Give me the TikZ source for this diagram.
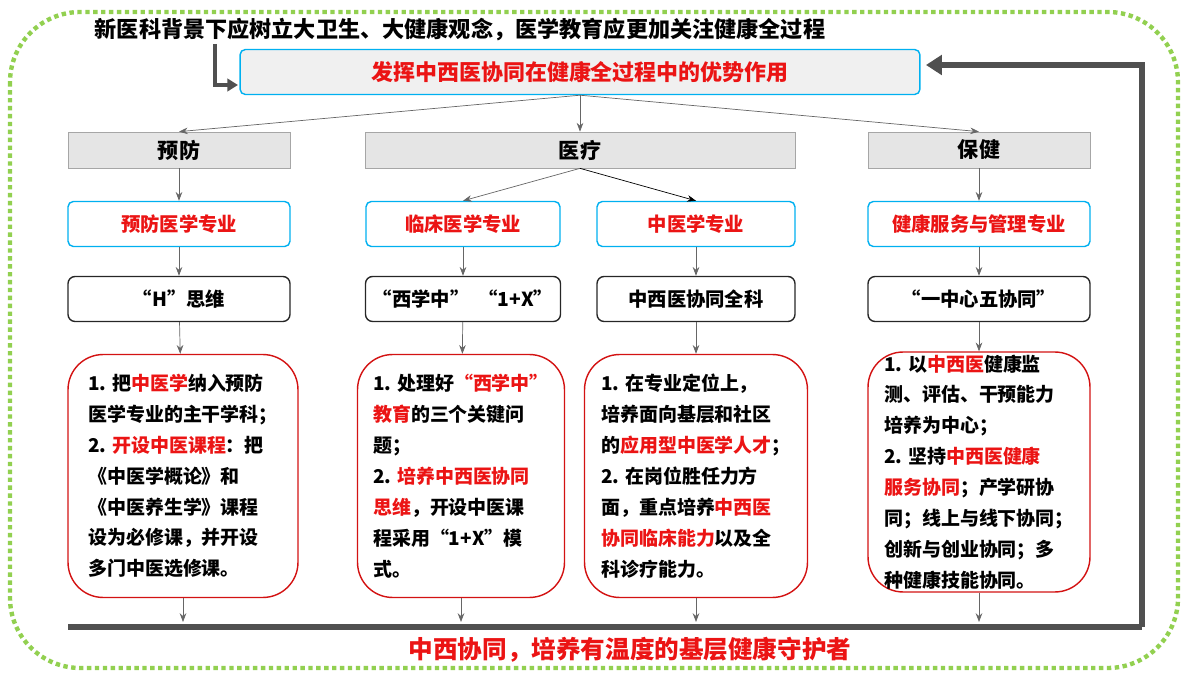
\documentclass[tikz,border=0pt]{standalone}
\usepackage{fontspec}
\setmainfont{Noto Sans CJK SC}
\usetikzlibrary{arrows.meta}
\definecolor{hired}{RGB}{235,20,20}
\definecolor{skyb}{RGB}{0,176,240}
\definecolor{leaf}{RGB}{146,208,80}
\definecolor{darkline}{RGB}{80,80,80}
\newcommand{\hl}[1]{\textcolor{hired}{#1}}
\tikzset{
  catbox/.style={draw=gray!70,fill=gray!20,minimum height=0.72cm,font=\bfseries\fontsize{12}{14}\selectfont},
  majbox/.style={draw=skyb,thick,rounded corners=3pt,fill=white,minimum height=0.9cm,text=hired,font=\bfseries\fontsize{11}{13}\selectfont},
  thinkbox/.style={draw=black!85,thick,rounded corners=4pt,minimum height=0.9cm,font=\bfseries\fontsize{11}{13}\selectfont},
  detbox/.style={draw=hired!90!black,thick,rounded corners=20pt,align=left,inner sep=0pt,font=\bfseries\fontsize{10.8}{17.6}\selectfont},
  link/.style={-{Stealth[length=5pt]},gray!80!black},
}
\begin{document}
\begin{tikzpicture}[x=0.02cm,y=-0.02cm]
\useasboundingbox (0,0) rectangle (1184,675);

% outer frame
\draw[leaf,line width=2.5pt,dotted,rounded corners=40pt] (10,12) rectangle (1178,668);

\node[font=\bfseries\fontsize{12.6}{14}\selectfont] (intro) at (460,30) {新医科背景下应树立大卫生、大健康观念，医学教育应更加关注健康全过程};

\node[draw=skyb,thick,fill=gray!12,rounded corners=3pt,minimum width=13.6cm,minimum height=0.9cm,
  text=hired,font=\bfseries\fontsize{12.5}{15}\selectfont] (top) at (580,72) {发挥中西医协同在健康全过程中的优势作用};

% categories
\node[catbox,minimum width=4.44cm] (yf) at (179,150) {预防};
\node[catbox,minimum width=8.6cm] (yl) at (580,150) {医疗};
\node[catbox,minimum width=4.44cm] (bj) at (979,150) {保健};

% majors
\node[majbox,minimum width=4.44cm] (m1) at (179,224) {预防医学专业};
\node[majbox,minimum width=3.88cm] (m2) at (463,224) {临床医学专业};
\node[majbox,minimum width=3.96cm] (m3) at (696,224) {中医学专业};
\node[majbox,minimum width=4.44cm] (m4) at (979,224) {健康服务与管理专业};

% thinking
\node[thinkbox,minimum width=4.44cm] (t1) at (179,299) {“H”思维};
\node[thinkbox,minimum width=3.9cm] (t2) at (463,299) {“西学中”\ \ “1+X”};
\node[thinkbox,minimum width=3.96cm] (t3) at (696,299) {中西医协同全科};
\node[thinkbox,minimum width=4.44cm] (t4) at (979,299) {“一中心五协同”};

% details
\node[detbox,minimum width=4.6cm,minimum height=4.86cm] (d1) at (183,476) {1. 把\hl{中医学}纳入预防\\医学专业的主干学科；\\2. \hl{开设中医课程}：把\\《中医学概论》和\\《中医养生学》课程\\设为必修课，并开设\\多门中医选修课。};
\node[detbox,minimum width=4.14cm,minimum height=4.86cm] (d2) at (461,476) {1. 处理好\hl{“西学中”}\\\hl{教育}的三个关键问\\题；\\2. \hl{培养中西医协同}\\\hl{思维}，开设中医课\\程采用“1+X”模\\式。};
\node[detbox,minimum width=4.46cm,minimum height=4.86cm] (d3) at (696,476) {1. 在专业定位上，\\培养面向基层和社区\\的\hl{应用型中医学人才}；\\2. 在岗位胜任力方\\面，重点培养\hl{中西医}\\\hl{协同临床能力}以及全\\科诊疗能力。};
\node[detbox,minimum width=4.44cm,minimum height=4.8cm] (d4) at (979,472) {1. 以\hl{中西医}健康监\\测、评估、干预能力\\培养为中心；\\2. 坚持\hl{中西医健康}\\\hl{服务协同}；产学研协\\同；线上与线下协同；\\创新与创业协同；多\\种健康技能协同。};

% connectors
\draw[link] (top.south) -- (yf.north);
\draw[link] (top.south) -- (yl.north);
\draw[link] (top.south) -- (bj.north);
\draw[link] (yf) -- (m1);
\draw[link] (bj) -- (m4);
\draw[link] (yl.south) -- (m2.north);
\draw[-{Stealth[length=5pt]},black] (yl.south) -- (m3.north);
\foreach \i in {1,2,3,4}{
  \draw[link] (m\i) -- (t\i);
  \draw[link] (t\i) -- (d\i);
}
\coordinate (b1) at (183,622);
\coordinate (b2) at (461,622);
\coordinate (b3) at (696,622);
\coordinate (b4) at (979,622);
\foreach \i in {1,2,3,4}
  \draw[link] (d\i.south) -- (b\i);

% bottom line and feedback
\coordinate (bl) at (68,627);
\coordinate (br) at (1142,627);
\coordinate (fb) at (926,65);
\draw[darkline,line width=3.5pt] (bl) -- (br);
\draw[darkline,line width=3.5pt,-{Triangle[length=9pt,width=11pt]}] (br) |- (fb);
\coordinate (s0) at (215,44);
\coordinate (s1) at (238,85);
\draw[darkline,line width=2.2pt,-{Triangle[length=6pt,width=7pt]}] (s0) |- (s1);

\node[text=hired,font=\bfseries\fontsize{14}{16}\selectfont] (slogan) at (630,650) {中西协同，培养有温度的基层健康守护者};
\end{tikzpicture}
\end{document}
